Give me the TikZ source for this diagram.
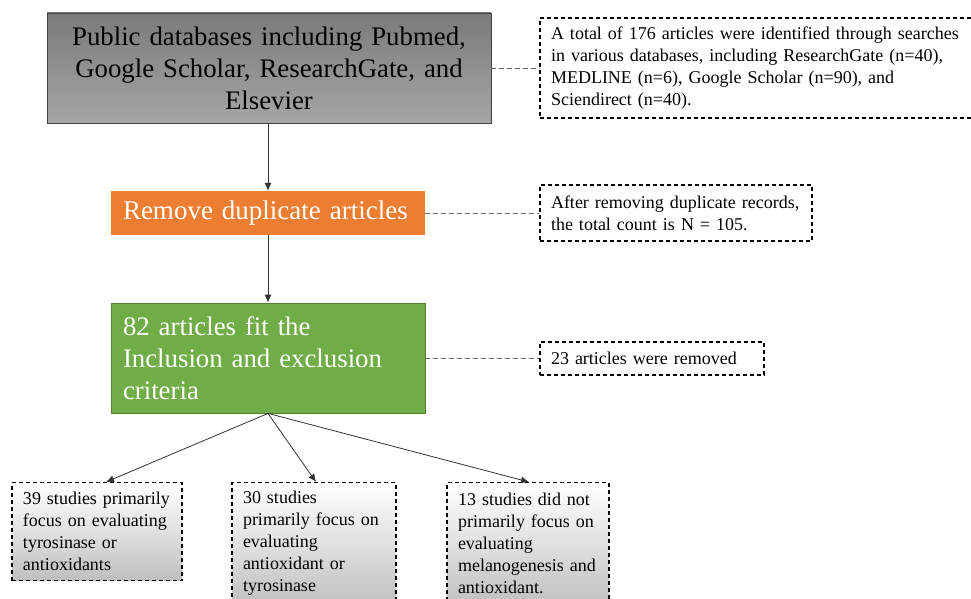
\documentclass[tikz,border=0pt]{standalone}
\usepackage{fontspec}
\setmainfont{Liberation Serif}
\usetikzlibrary{arrows.meta}
\definecolor{orangebox}{HTML}{ED7D31}
\definecolor{greenbox}{HTML}{70AD47}
\definecolor{greenedge}{HTML}{507E32}
\tikzset{
  mainbox/.style={rectangle, inner sep=0pt, align=center, text=black},
  notebox/.style={rectangle, draw=black, line width=1.1pt, dash pattern=on 4pt off 3pt, inner xsep=11pt, inner ysep=4pt, align=left, font=\fontsize{18}{22}\selectfont},
  resbox/.style={notebox, top color=white, bottom color=black!25, middle color=white!88!black},
  linkline/.style={draw=black!60, line width=0.8pt, dash pattern=on 5pt off 3pt},
  arrowline/.style={draw=black!80, line width=0.8pt, -{Latex[length=8pt,width=7pt]}}
}
\begin{document}
\begin{tikzpicture}[x=1pt,y=-1pt]
\useasboundingbox (0,0) rectangle (971,599);
\fill[white] (0,0) rectangle (971,599);
% main column
\node[mainbox, draw=black!75, line width=0.8pt, top color=black!52, bottom color=black!35,
      minimum width=444pt, minimum height=110pt, text width=440pt,
      font=\fontsize{26.8}{32}\selectfont] (db) at (269,68)
  {Public databases including Pubmed,\\ Google Scholar, ResearchGate, and\\ Elsevier};
\node[mainbox, fill=orangebox, text=white, align=left, minimum width=314pt, minimum height=44pt,
      text width=290pt, inner xsep=12pt, font=\fontsize{27}{30}\selectfont] (dup) at (268,213) {\raisebox{-2pt}{Remove duplicate articles}};
\node[mainbox, fill=greenbox, draw=greenedge, line width=0.8pt, text=white, align=left,
      minimum width=314pt, minimum height=110pt, text width=290pt,
      font=\fontsize{26.8}{32}\selectfont] (fit) at (268,358)
  {82 articles fit the\\ Inclusion and exclusion\\ criteria};
% side notes
\node[notebox, text width=413pt, minimum width=435pt, minimum height=100pt] (n1) at (757.5,68)
  {A total of 176 articles were identified through searches\\ in various databases, including ResearchGate (n=40),\\ MEDLINE (n=6), Google Scholar (n=90), and\\ Sciendirect (n=40).};
\node[notebox, text width=250pt, minimum width=272pt, minimum height=56pt] (n2) at (676,213)
  {After removing duplicate records,\\ the total count is N = 105.};
\node[notebox, text width=202pt, minimum width=224pt, minimum height=33pt] (n3) at (652,358.5)
  {23 articles were removed};
% results
\node[resbox, text width=148pt, minimum width=170pt, minimum height=98pt, anchor=north] (r1) at (97,482)
  {39 studies primarily\\ focus on evaluating\\ tyrosinase or\\ antioxidants};
\node[resbox, text width=142pt, minimum width=164pt, minimum height=122pt, anchor=north] (r2) at (314,482)
  {30 studies\\ primarily focus on\\ evaluating\\ antioxidant or\\ tyrosinase};
\node[resbox, text width=140pt, minimum width=162pt, minimum height=122pt, anchor=north] (r3) at (528,482)
  {13 studies did not\\ primarily focus on\\ evaluating\\ melanogenesis and\\ antioxidant.};
% connectors
\draw[arrowline] (db.south -| dup.north) -- (dup.north);
\draw[arrowline] (dup.south) -- (fit.north);
\draw[linkline] (db.east) -- (db.east -| n1.west);
\draw[linkline] (dup.east) -- (dup.east -| n2.west);
\draw[linkline] (fit.east) -- (fit.east -| n3.west);
\draw[arrowline] (fit.south) -- ([xshift=9pt]r1.north);
\draw[arrowline] (fit.south) -- ([xshift=2pt]r2.north);
\draw[arrowline] (fit.south) -- ([xshift=1pt]r3.north);
\end{tikzpicture}
\end{document}
